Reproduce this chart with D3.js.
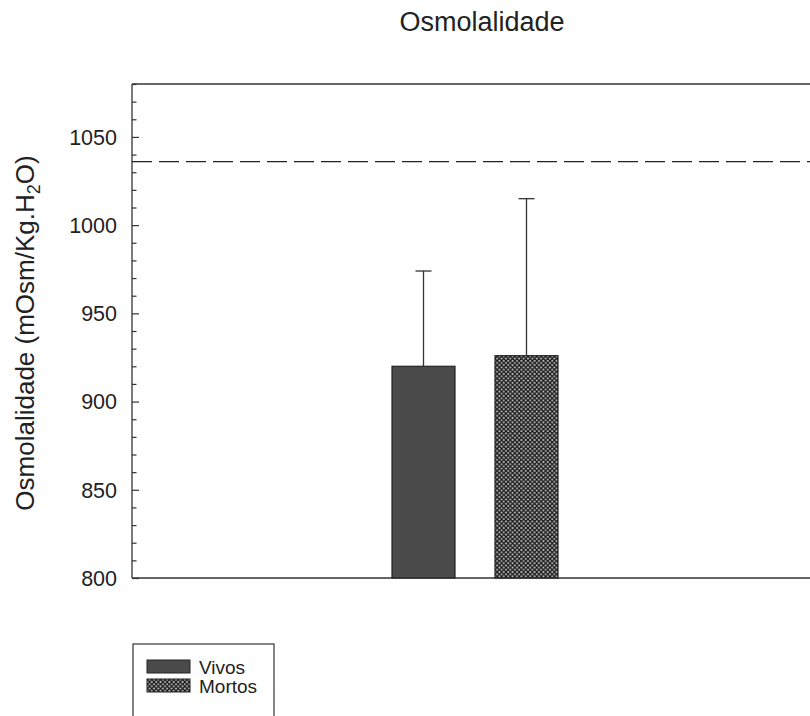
<!DOCTYPE html>
<html>
<head>
<meta charset="utf-8">
<script src="https://cdnjs.cloudflare.com/ajax/libs/d3/7.8.5/d3.min.js"></script>
<style>
  body { margin: 0; background: #fff; }
  svg { display: block; font-family: Arial, "Liberation Sans", sans-serif; }
</style>
</head>
<body>
<svg id="chart" width="810" height="716"></svg>
<script>
// Groups, means and standard deviations (mOsm/Kg.H2O)
const groups = ["Vivos", "Mortos"];
const means = [920, 926];
const sds = [54, 89];
const referenceLevel = 1036;
const yTicks = [800, 850, 900, 950, 1000, 1050];
const yMinorTicks = d3.range(800, 1081, 10);

const svg = d3.select("#chart");
const plotLeft = 132, plotRight = 810, plotTop = 84, plotBottom = 578;

const y = d3.scaleLinear().domain([800, 1080]).range([plotBottom, plotTop]);
const x = d3.scaleBand().domain(groups).range([392, 558])
  .paddingInner(40 / 103).paddingOuter(0);

// Cross-hatch pattern for the second group
const defs = svg.append("defs");
const pat = defs.append("pattern").attr("id", "hatch")
  .attr("patternUnits", "userSpaceOnUse").attr("width", 4.4).attr("height", 4.4);
pat.append("rect").attr("width", 4.4).attr("height", 4.4).attr("fill", "#b8b8b8");
pat.append("path").attr("d", "M0,0 L4.4,4.4 M4.4,0 L0,4.4")
  .attr("stroke", "#111").attr("stroke-width", 1.1);

const fills = { Vivos: "#4a4a4a", Mortos: "url(#hatch)" };

// Frame lines (top and bottom)
svg.append("line").attr("x1", plotLeft).attr("x2", plotRight).attr("y1", plotTop).attr("y2", plotTop)
  .attr("stroke", "#333").attr("stroke-width", 1.3);
svg.append("line").attr("x1", plotLeft).attr("x2", plotRight).attr("y1", plotBottom).attr("y2", plotBottom)
  .attr("stroke", "#333").attr("stroke-width", 1.3);

// Y axis with inward ticks
const yAxis = d3.axisRight(y).tickValues(yTicks).tickSize(7).tickFormat("");
const gY = svg.append("g").attr("transform", `translate(${plotLeft},0)`).call(yAxis);
gY.select(".domain").attr("stroke", "#333").attr("stroke-width", 1.3)
  .attr("d", `M0,${plotTop}V${plotBottom}`);
gY.selectAll(".tick line").attr("stroke", "#333").attr("stroke-width", 1.2);

const gMinor = svg.append("g").attr("transform", `translate(${plotLeft},0)`)
  .call(d3.axisRight(y).tickValues(yMinorTicks.filter(v => !yTicks.includes(v))).tickSize(4.5).tickFormat(""));
gMinor.select(".domain").remove();
gMinor.selectAll(".tick line").attr("stroke", "#333").attr("stroke-width", 1.2);

// Tick labels
svg.append("g").selectAll("text").data(yTicks).join("text")
  .attr("x", 117).attr("y", d => y(d)).attr("dy", "0.36em")
  .attr("text-anchor", "end").attr("font-size", 21.5).attr("fill", "#222")
  .text(d => d);

// Reference dashed line
svg.append("line").attr("x1", plotLeft).attr("x2", plotRight)
  .attr("y1", y(referenceLevel)).attr("y2", y(referenceLevel))
  .attr("stroke", "#222").attr("stroke-width", 1.4).attr("stroke-dasharray", "20,7");

// Error bars (upper)
groups.forEach((g, i) => {
  const cx = x(g) + x.bandwidth() / 2;
  svg.append("line").attr("x1", cx).attr("x2", cx)
    .attr("y1", y(means[i])).attr("y2", y(means[i] + sds[i]))
    .attr("stroke", "#333").attr("stroke-width", 1.3);
  svg.append("line").attr("x1", cx - 8).attr("x2", cx + 8)
    .attr("y1", y(means[i] + sds[i])).attr("y2", y(means[i] + sds[i]))
    .attr("stroke", "#333").attr("stroke-width", 1.3);
});

// Bars
svg.append("g").selectAll("rect").data(groups).join("rect")
  .attr("x", d => x(d)).attr("width", x.bandwidth())
  .attr("y", (d, i) => y(means[i])).attr("height", (d, i) => plotBottom - y(means[i]))
  .attr("fill", d => fills[d]).attr("stroke", "#222").attr("stroke-width", 1.2);

// Title
svg.append("text").attr("x", 482).attr("y", 31).attr("text-anchor", "middle")
  .attr("font-size", 27).attr("fill", "#222").text("Osmolalidade");

// Y axis title with subscript
const yt = svg.append("text").attr("transform", "translate(34,333) rotate(-90)")
  .attr("text-anchor", "middle").attr("font-size", 26).attr("fill", "#222");
yt.append("tspan").text("Osmolalidade (mOsm/Kg.H");
yt.append("tspan").attr("font-size", 18).attr("dy", 6).text("2");
yt.append("tspan").attr("dy", -6).text("O)");

// Legend
const lg = svg.append("g");
lg.append("rect").attr("x", 133).attr("y", 644).attr("width", 141).attr("height", 90)
  .attr("fill", "#fff").attr("stroke", "#333").attr("stroke-width", 1.2);
groups.forEach((g, i) => {
  const yy = 660 + i * 19;
  lg.append("rect").attr("x", 147).attr("y", yy).attr("width", 43).attr("height", 13)
    .attr("fill", fills[g]).attr("stroke", "#222").attr("stroke-width", 1);
  lg.append("text").attr("x", 199).attr("y", yy + 7).attr("dy", "0.36em")
    .attr("font-size", 19).attr("fill", "#222").text(g);
});
</script>
</body>
</html>
